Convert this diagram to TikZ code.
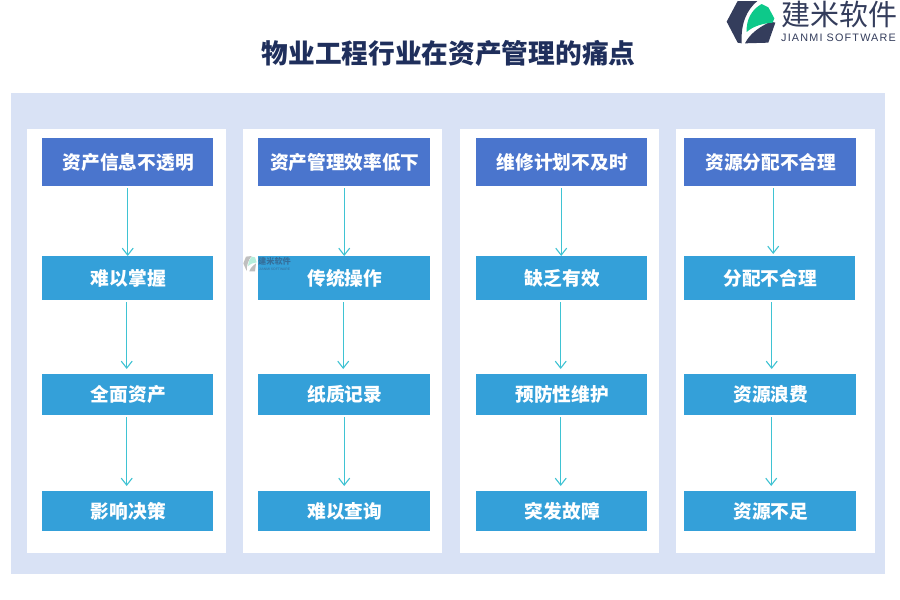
\documentclass[tikz,border=0pt]{standalone}
\usepackage{fontspec}
\setmainfont{Noto Sans CJK SC}
\newfontfamily\latinlogo{Liberation Sans}
\usetikzlibrary{arrows.meta}
\definecolor{bgblue}{HTML}{D9E2F5}
\definecolor{headblue}{HTML}{4A75CD}
\definecolor{itemblue}{HTML}{34A0D9}
\definecolor{linecyan}{HTML}{3FC3D3}
\definecolor{titlenavy}{HTML}{1F2F5C}
\definecolor{logonavy}{HTML}{343D5C}
\definecolor{logogreen}{HTML}{0DC98A}
\tikzset{
  panel/.style={fill=white,draw=none},
  boxbase/.style={anchor=north west,inner sep=0pt,text=white,align=center,font=\fontsize{18.7}{20}\selectfont\bfseries},
  headbox/.style={boxbase,fill=headblue},
  itembox/.style={boxbase,fill=itemblue},
  link/.style={draw=linecyan,line width=1.1pt,-{Straight Barb[length=7pt,width=11pt,line width=1.1pt]},shorten <=2pt},
}
\newcommand{\bx}[7]{\node[#1,minimum width=#4pt,minimum height=#5pt] (#2) at (#3,#6) {\hspace*{1.2pt}\raisebox{1.5pt}{#7}};}
\begin{document}
\begin{tikzpicture}[x=1pt,y=-1pt]
\useasboundingbox (0,0) rectangle (900,600);
\fill[white] (0,0) rectangle (900,600);
\fill[bgblue] (11,93) rectangle (885,574);
\foreach \x in {27,243,460,676} \fill[panel] (\x,129) rectangle ++(199,424);
\node[font=\fontsize{26.7}{28}\selectfont\bfseries,text=titlenavy,inner sep=0pt] (title) at (448.5,53.5) {物业工程行业在资产管理的痛点};
% column 1
\bx{headbox}{a1}{42}{171}{48}{138}{资产信息不透明}
\bx{itembox}{a2}{42}{171}{44}{256}{难以掌握}
\bx{itembox}{a3}{42}{171}{41}{374}{全面资产}
\bx{itembox}{a4}{42}{171}{40}{491}{影响决策}
% column 2
\bx{headbox}{b1}{258}{172}{48}{138}{资产管理效率低下}
\bx{itembox}{b2}{258}{172}{44}{256}{传统操作}
\bx{itembox}{b3}{258}{172}{41}{374}{纸质记录}
\bx{itembox}{b4}{258}{172}{40}{491}{难以查询}
% column 3
\bx{headbox}{c1}{476}{171}{48}{138}{维修计划不及时}
\bx{itembox}{c2}{476}{171}{44}{256}{缺乏有效}
\bx{itembox}{c3}{476}{171}{41}{374}{预防性维护}
\bx{itembox}{c4}{476}{171}{40}{491}{突发故障}
% column 4
\bx{headbox}{d1}{684}{172}{48}{138}{资源分配不合理}
\bx{itembox}{d2}{684}{171}{44}{256}{分配不合理}
\bx{itembox}{d3}{684}{172}{41}{374}{资源浪费}
\bx{itembox}{d4}{684}{172}{40}{491}{资源不足}
% connectors
\draw[link] (a1.south) -- (a2.north);
\draw[link] ([xshift=-1pt]a2.south) -- ([xshift=-1pt,yshift=5pt]a3.north);
\draw[link] ([xshift=-1pt]a3.south) -- ([xshift=-1pt,yshift=5pt]a4.north);
\draw[link] (b1.south) -- (b2.north);
\draw[link] ([xshift=-1pt]b2.south) -- ([xshift=-1pt,yshift=5pt]b3.north);
\draw[link] (b3.south) -- ([yshift=5pt]b4.north);
\draw[link] ([xshift=-.5pt]c1.south) -- ([xshift=-.5pt]c2.north);
\draw[link] ([xshift=-1pt]c2.south) -- ([xshift=-1pt,yshift=5pt]c3.north);
\draw[link] ([xshift=-1pt]c3.south) -- ([xshift=-1pt,yshift=5pt]c4.north);
\draw[link] ([xshift=3pt]d1.south) -- ([xshift=3.5pt,yshift=2pt]d2.north);
\draw[link] ([xshift=2pt]d2.south) -- ([xshift=1.5pt,yshift=5pt]d3.north);
\draw[link] ([xshift=1pt]d3.south) -- ([xshift=1pt,yshift=5pt]d4.north);
% main logo
\begin{scope}[shift={(700,0)},x=0.3333pt,y=-0.3333pt]
\fill[logonavy] (113,3) -- (172,3) .. controls (140,30) and (122,70) .. (125,130) -- (113,128) -- (80,65) -- cycle;
\fill[logonavy] (135,130) .. controls (150,100) and (180,80) .. (212,65) -- (226,68) -- (205,128) -- cycle;
\fill[logogreen] (185,12) -- (205,22) -- (223,55) -- (218,68) .. controls (190,70) and (160,78) .. (140,96) .. controls (138,60) and (155,28) .. (185,12) -- cycle;
\end{scope}
\node[font=\fontsize{29}{30}\selectfont,text=logonavy,inner sep=0pt] (logocn) at (839.5,14) {建米软件};
\node[font=\latinlogo\fontsize{10.8}{12}\selectfont\addfontfeatures{LetterSpace=11},text=logonavy,inner sep=0pt] (logoen) at (838.5,38) {JIANMI SOFTWARE};
% watermark
\begin{scope}[shift={(220,230)},x=0.3333pt,y=-0.3333pt,opacity=.5]
\fill[gray] (78,80) -- (95,78) .. controls (85,90) and (80,105) .. (80,123) -- (70,100) -- cycle;
\fill[gray] (88,124) .. controls (92,112) and (100,106) .. (108,100) -- (105,124) -- cycle;
\fill[logogreen!60] (95,80) -- (105,82) -- (110,97) .. controls (100,98) and (90,102) .. (84,108) .. controls (84,98) and (88,88) .. (95,80) -- cycle;
\end{scope}
\node[font=\fontsize{8.2}{9}\selectfont\bfseries,text=logonavy,opacity=.5,inner sep=0pt] (wmcn) at (274.5,261.5) {建米软件};
\node[font=\latinlogo\fontsize{3.4}{4}\selectfont,text=logonavy,opacity=.5,inner sep=0pt] (wmen) at (274.5,269) {JIANMI SOFTWARE};
\end{tikzpicture}
\end{document}
